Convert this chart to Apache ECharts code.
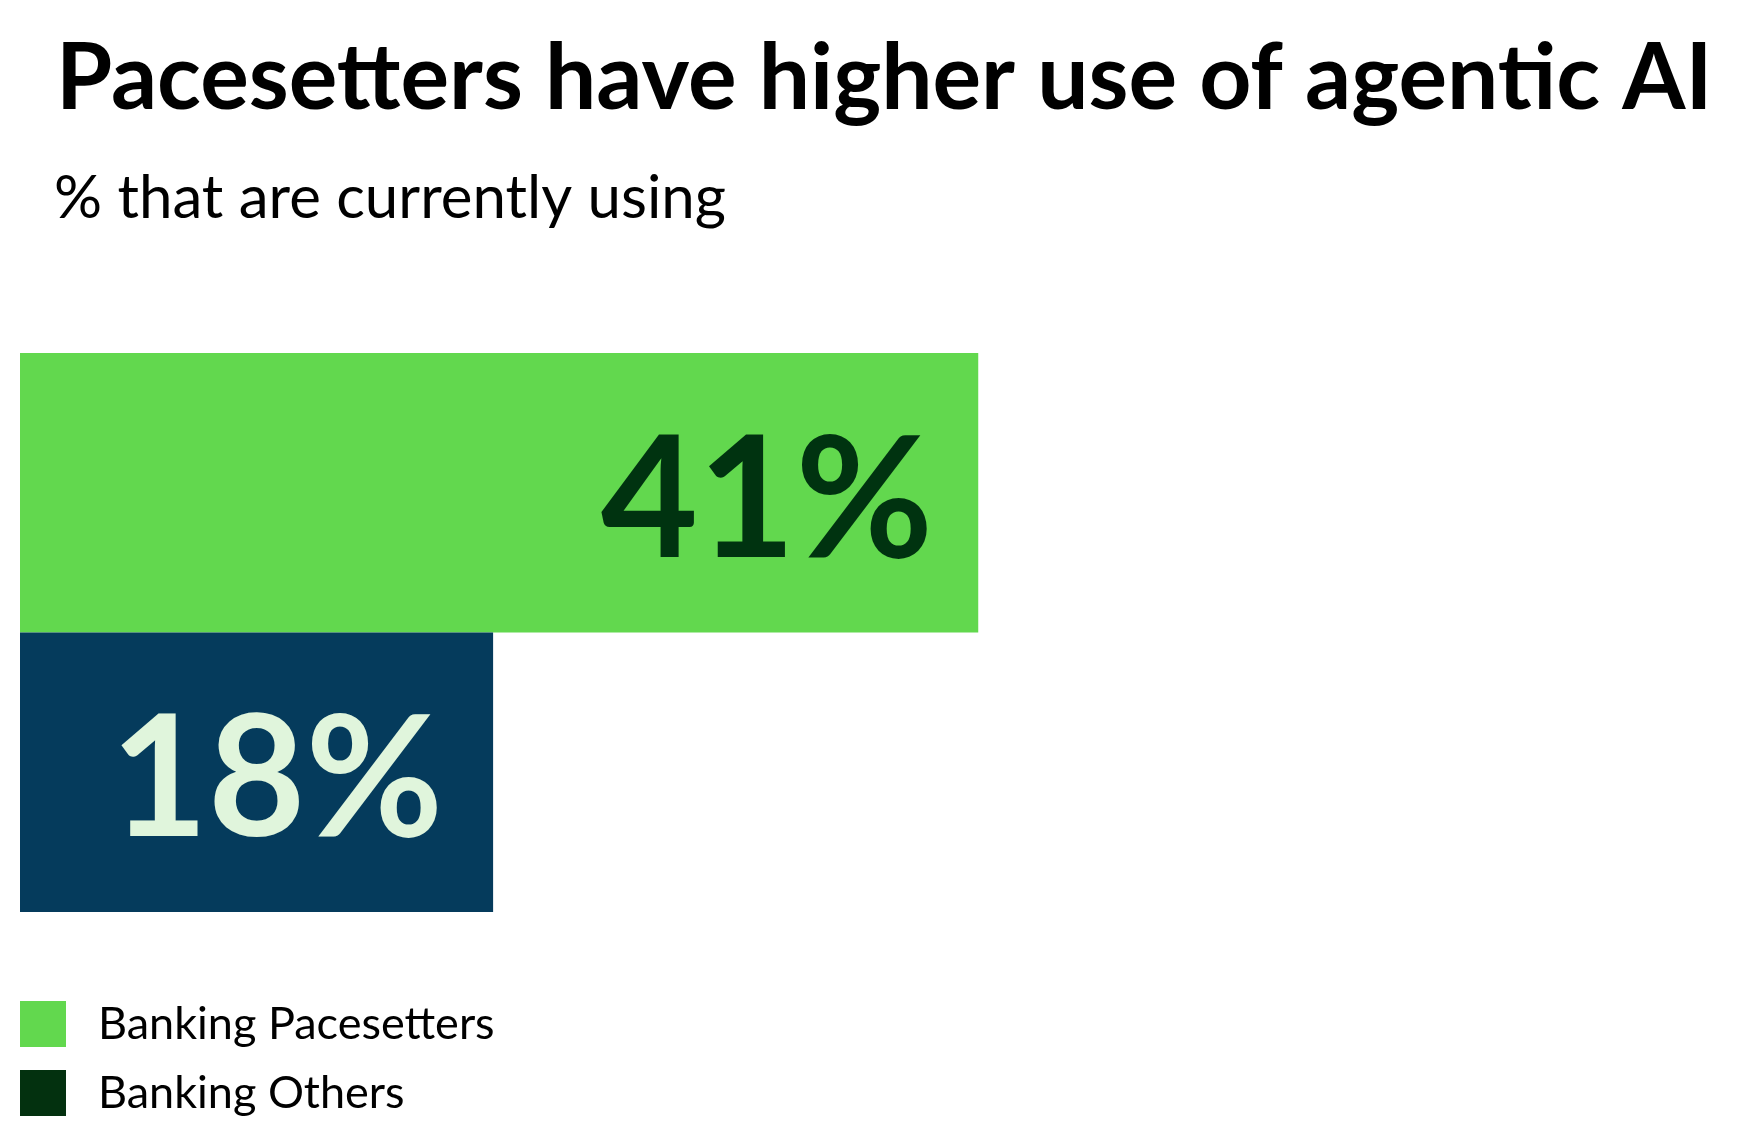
<!DOCTYPE html>
<html>
<head>
<meta charset="utf-8">
<script src="https://cdn.jsdelivr.net/npm/echarts@6/dist/echarts.min.js"></script>
<style>
  html, body { margin: 0; padding: 0; background: #fff; }
  #chart { width: 1764px; height: 1145px; }
</style>
</head>
<body>
<div id="chart"></div>
<script>
// ============================================================================
// Data
// ============================================================================

const categories = ['Agentic AI']
const seriesNames = ['Banking Pacesetters', 'Banking Others']
const pacesetterValues = [41]
const otherValues = [18]

// ============================================================================
// Constants
// ============================================================================

const _font = 'Lato'
const _barColors = ['#62d84e', '#053b5c']
const _legendColors = ['#62d84e', '#03310f']
const _labelColors = ['#003310', '#e0f5dc']

// the bars in the source are not drawn from zero, so the axis starts below it
const _axisStart = -4.43
const _axisEnd = 60

// ============================================================================
// Helpers
// ============================================================================

function _barSeries(name, values, idx, labelDistance) {
    return {
        name: name,
        type: 'bar',
        data: values,
        barGap: '0%',
        barCategoryGap: '0%',
        itemStyle: {color: _barColors[idx]},
        label: {
            show: true,
            position: 'insideRight',
            distance: labelDistance,
            offset: [0, 10],
            formatter: '{c}%',
            fontFamily: _font,
            fontWeight: 'bold',
            fontSize: 168,
            color: _labelColors[idx],
        },
        emphasis: {disabled: true},
    }
}

// ============================================================================
// Render
// ============================================================================

function renderChart() {
    const chart = echarts.init(document.getElementById('chart'), null, {renderer: 'canvas'})
    const option = {
        animation: false,
        title: [
            {
                text: 'Pacesetters have higher use of agentic AI',
                left: 56,
                top: 34,
                padding: 0,
                textStyle: {fontFamily: _font, fontWeight: 'bold', fontSize: 91, color: '#000'},
            },
            {
                text: '% that are currently using',
                left: 54,
                top: 169,
                padding: 0,
                textStyle: {fontFamily: _font, fontWeight: 'normal', fontSize: 60, color: '#000'},
            },
        ],
        legend: {
            orient: 'vertical',
            left: 20,
            top: 1001,
            padding: 0,
            itemWidth: 46,
            itemHeight: 46,
            itemGap: 23,
            icon: 'rect',
            selectedMode: false,
            textStyle: {fontFamily: _font, fontSize: 45, color: '#000', padding: [0, 0, 0, 27]},
            data: seriesNames.map((n, i) => ({name: n, itemStyle: {color: _legendColors[i]}})),
        },
        grid: {left: 20, top: 353, width: 1359, height: 559},
        xAxis: {
            type: 'value',
            min: _axisStart,
            max: _axisEnd,
            startValue: _axisStart,
            show: false,
        },
        yAxis: {
            type: 'category',
            data: categories,
            inverse: true,
            show: false,
        },
        series: [
            _barSeries(seriesNames[0], pacesetterValues, 0, 45),
            _barSeries(seriesNames[1], otherValues, 1, 50),
        ],
    }
    chart.setOption(option)
}

renderChart()
</script>
</body>
</html>
